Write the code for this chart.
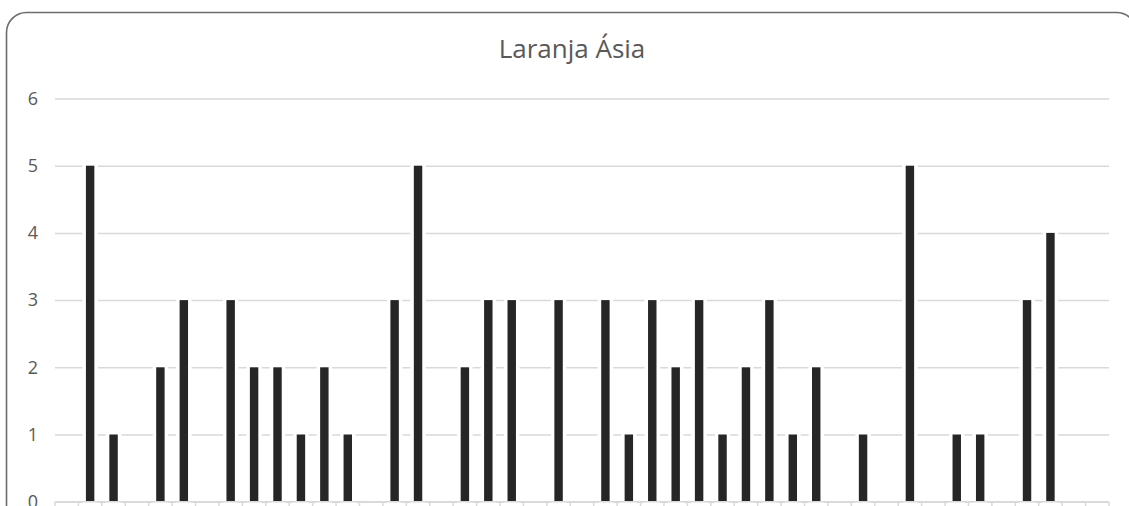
<!DOCTYPE html>
<html>
<head>
<meta charset="utf-8">
<script src="https://cdn.jsdelivr.net/npm/d3@7"></script>
<style>
  body { margin: 0; background: #fff; overflow: hidden; }
  svg { display: block; font-family: "Open Sans", "Noto Sans", sans-serif; }
</style>
</head>
<body>
<script>
const width = 1129;
const height = 506;

// one category per bar slot, labels are outside the visible area
const categories = d3.range(1, 46).map(String);
const values = [
  0, 5, 1, 0, 2, 3, 0, 3, 2, 2, 1, 2, 1, 0, 3,
  5, 0, 2, 3, 3, 0, 3, 0, 3, 1, 3, 2, 3, 1, 2,
  3, 1, 2, 0, 1, 0, 5, 0, 1, 1, 0, 3, 4, 0, 0
];
const yTicks = [0, 1, 2, 3, 4, 5, 6];
const title = "Laranja Ásia";

const margin = { left: 55, right: 20, top: 98.5, bottom: 4.3 };

const svg = d3
  .select("body")
  .append("svg")
  .attr("width", width)
  .attr("height", height);

// chart frame
svg
  .append("rect")
  .attr("x", 6.5)
  .attr("y", 12.5)
  .attr("width", 1130)
  .attr("height", 560)
  .attr("rx", 20)
  .attr("fill", "#fff")
  .attr("stroke", "#6b6b6b")
  .attr("stroke-width", 1.6);

svg
  .append("text")
  .attr("x", 572)
  .attr("y", 58)
  .attr("text-anchor", "middle")
  .attr("fill", "#595959")
  .style("font-size", "26px")
  .text(title);

const xScale = d3
  .scaleBand()
  .domain(categories)
  .range([margin.left, width - margin.right])
  .paddingInner(0.64)
  .paddingOuter(0.32);

const yScale = d3
  .scaleLinear()
  .domain([0, 6])
  .range([height - margin.bottom, margin.top]);

// gridlines + labels
const yAxis = svg
  .append("g")
  .attr("transform", `translate(${margin.left},0)`)
  .call(
    d3
      .axisLeft(yScale)
      .tickValues(yTicks)
      .tickSize(-(width - margin.left - margin.right))
      .tickPadding(17)
      .tickFormat(d3.format("d"))
  );
yAxis.select(".domain").remove();
yAxis
  .selectAll(".tick line")
  .attr("stroke", "#d9d9d9")
  .attr("stroke-width", 1.5);
yAxis
  .selectAll(".tick text")
  .attr("fill", "#595959")
  .style("font-size", "18px")
  .style("font-family", "'Open Sans', sans-serif");

// white halo under each bar cuts the gridlines like the original
svg
  .selectAll("rect.halo")
  .data(values)
  .enter()
  .append("rect")
  .attr("class", "halo")
  .attr("x", (d, i) => xScale(categories[i]))
  .attr("width", xScale.bandwidth())
  .attr("y", (d) => yScale(d))
  .attr("height", (d) => yScale(0) - yScale(d))
  .attr("fill", "#fff")
  .attr("stroke", "#fff")
  .attr("stroke-width", (d) => (d > 0 ? 7 : 0));

svg
  .selectAll("rect.bar")
  .data(values)
  .enter()
  .append("rect")
  .attr("class", "bar")
  .attr("x", (d, i) => xScale(categories[i]))
  .attr("width", xScale.bandwidth())
  .attr("y", (d) => yScale(d))
  .attr("height", (d) => yScale(0) - yScale(d))
  .attr("fill", "#262626");

// category axis: baseline and boundary ticks
const step = xScale.step();
const bounds = d3.range(categories.length + 1).map((i) =>
  i < categories.length
    ? xScale(categories[i]) - step * 0.32
    : xScale(categories[i - 1]) + xScale.bandwidth() + step * 0.32
);
const xAxis = svg.append("g");
xAxis
  .append("line")
  .attr("x1", margin.left)
  .attr("x2", width - margin.right)
  .attr("y1", yScale(0))
  .attr("y2", yScale(0))
  .attr("stroke", "#d9d9d9")
  .attr("stroke-width", 1.5);
xAxis
  .selectAll("line.tick")
  .data(bounds)
  .enter()
  .append("line")
  .attr("class", "tick")
  .attr("x1", (d) => d)
  .attr("x2", (d) => d)
  .attr("y1", yScale(0))
  .attr("y2", yScale(0) + 6)
  .attr("stroke", "#d9d9d9")
  .attr("stroke-width", 1.5);
</script>
</body>
</html>
